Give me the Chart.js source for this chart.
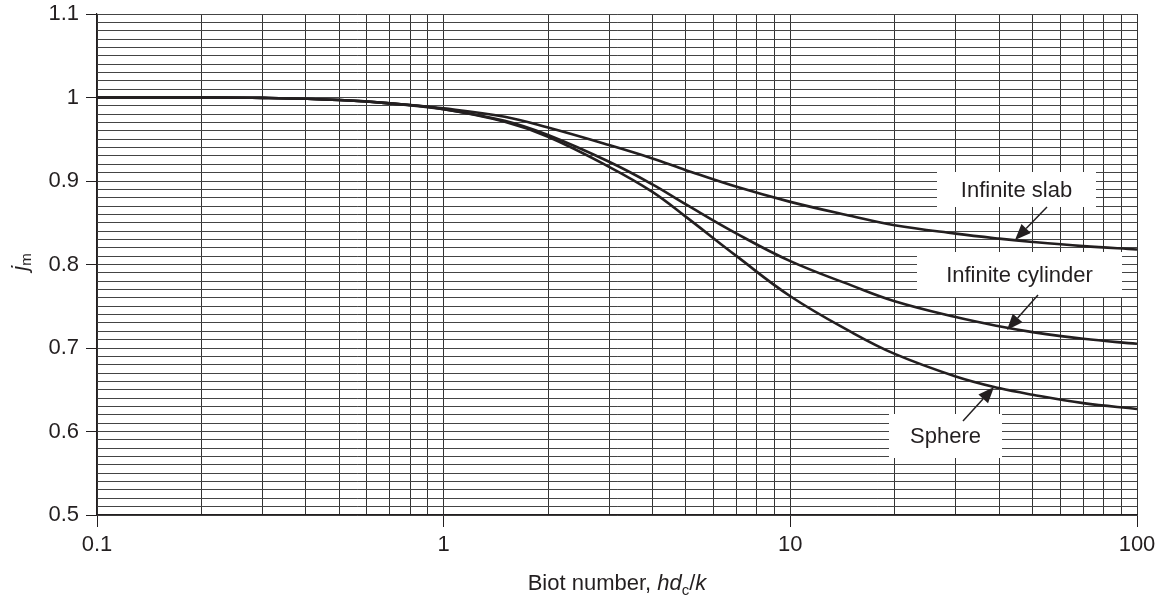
<!DOCTYPE html>
<html lang="en">
<head>
<meta charset="UTF-8">
<title>Biot number chart</title>
<script src="https://cdn.jsdelivr.net/npm/chart.js@4.4.1/dist/chart.umd.min.js"></script>
<style>
  body { margin: 0; background: #fff; }
  #wrap { width: 1169px; height: 598px; }
</style>
</head>
<body>
<div id="wrap"><canvas id="jmChart" width="1169" height="598"></canvas></div>
<script>
// values
const biot = [0.1, 0.2, 0.3, 0.5, 0.7, 1, 1.5, 2, 3, 4, 5, 7, 10, 15, 20, 30, 40, 50, 70, 100];
const slab = [1.0, 1.0, 0.9995, 0.997, 0.993, 0.987, 0.977, 0.964, 0.943, 0.927, 0.913, 0.893, 0.875, 0.858, 0.847, 0.837, 0.831, 0.827, 0.822, 0.818];
const cylinder = [1.0, 1.0, 0.9995, 0.997, 0.993, 0.986, 0.972, 0.955, 0.923, 0.896, 0.872, 0.837, 0.804, 0.775, 0.756, 0.737, 0.726, 0.719, 0.711, 0.705];
const sphere = [1.0, 1.0, 0.9995, 0.997, 0.993, 0.986, 0.971, 0.953, 0.917, 0.887, 0.857, 0.810, 0.762, 0.719, 0.693, 0.666, 0.652, 0.644, 0.634, 0.627];
const curveNames = ['Infinite slab', 'Infinite cylinder', 'Sphere'];
const xTickLabels = ['0.1', '1', '10', '100'];
const yTickLabels = ['0.5', '0.6', '0.7', '0.8', '0.9', '1', '1.1'];

const INK = '#231f20';
const FONT = '"Liberation Sans", Arial, sans-serif';

function pairs(ys) {
    return biot.map((b, i) => ({ x: b, y: ys[i] }));
}

function isDecade(v) {
    const l = Math.log10(v);
    return Math.abs(l - Math.round(l)) < 1e-9;
}

function isTenth(v) {
    return Math.abs(v * 10 - Math.round(v * 10)) < 1e-6;
}

// label boxes and arrows
const labelPlugin = {
    id: 'labels',
    afterDatasetsDraw(chart) {
        const ctx = chart.ctx;
        const boxes = [
            { text: curveNames[0], x: 937, y: 172, w: 159, h: 35, from: [1047, 207], to: [1015, 240] },
            { text: curveNames[1], x: 917, y: 252, w: 205, h: 45, from: [1038, 295], to: [1007, 330] },
            { text: curveNames[2], x: 889, y: 414, w: 113, h: 44, from: [963, 421], to: [994, 387] }
        ];
        ctx.save();
        boxes.forEach(b => {
            ctx.fillStyle = '#fff';
            ctx.fillRect(b.x, b.y, b.w, b.h);
            ctx.fillStyle = INK;
            ctx.font = '22px ' + FONT;
            ctx.textAlign = 'center';
            ctx.textBaseline = 'middle';
            ctx.fillText(b.text, b.x + b.w / 2, b.y + b.h / 2 + 1);
            // arrow
            const dx = b.to[0] - b.from[0], dy = b.to[1] - b.from[1];
            const len = Math.hypot(dx, dy);
            const ux = dx / len, uy = dy / len;
            const head = 16, half = 6.5;
            const bx = b.to[0] - ux * head, by = b.to[1] - uy * head;
            ctx.strokeStyle = INK;
            ctx.lineWidth = 1.5;
            ctx.beginPath();
            ctx.moveTo(b.from[0], b.from[1]);
            ctx.lineTo(bx, by);
            ctx.stroke();
            ctx.beginPath();
            ctx.moveTo(b.to[0], b.to[1]);
            ctx.lineTo(bx - uy * half, by + ux * half);
            ctx.lineTo(bx + uy * half, by - ux * half);
            ctx.closePath();
            ctx.fill();
        });
        ctx.restore();
    },
    afterDraw(chart) {
        const ctx = chart.ctx;
        const area = chart.chartArea;
        ctx.save();
        ctx.fillStyle = INK;
        ctx.textBaseline = 'alphabetic';
        ctx.textAlign = 'left';
        // x axis title: Biot number, hd_c/k
        const parts = [
            { t: 'Biot number, ', f: '22px ' + FONT, dy: 0 },
            { t: 'hd', f: 'italic 22px ' + FONT, dy: 0 },
            { t: 'c', f: '15px ' + FONT, dy: 5 },
            { t: '/', f: '22px ' + FONT, dy: 0 },
            { t: 'k', f: 'italic 22px ' + FONT, dy: 0 }
        ];
        let total = 0;
        parts.forEach(p => { ctx.font = p.f; p.w = ctx.measureText(p.t).width; total += p.w; });
        let x = (area.left + area.right) / 2 - total / 2;
        parts.forEach(p => {
            ctx.font = p.f;
            ctx.fillText(p.t, x, 590 + p.dy);
            x += p.w;
        });
        // y axis title: j_m
        ctx.translate(27, 262);
        ctx.rotate(-Math.PI / 2);
        const yparts = [
            { t: 'j', f: 'italic 22px ' + FONT, dy: 0 },
            { t: 'm', f: '15px ' + FONT, dy: 4 }
        ];
        let tw = 0;
        yparts.forEach(p => { ctx.font = p.f; p.w = ctx.measureText(p.t).width; tw += p.w; });
        let yx = -tw / 2;
        yparts.forEach(p => {
            ctx.font = p.f;
            ctx.fillText(p.t, yx, p.dy);
            yx += p.w;
        });
        ctx.restore();
    }
};

const lineStyle = {
    borderColor: INK,
    borderWidth: 2.6,
    pointRadius: 0,
    fill: false,
    tension: 0.4
};

new Chart(document.getElementById('jmChart'), {
    type: 'line',
    data: {
        datasets: [
            Object.assign({ label: curveNames[0], data: pairs(slab) }, lineStyle),
            Object.assign({ label: curveNames[1], data: pairs(cylinder) }, lineStyle),
            Object.assign({ label: curveNames[2], data: pairs(sphere) }, lineStyle)
        ]
    },
    options: {
        responsive: false,
        animation: false,
        layout: { padding: { left: 0, right: 32, top: 14, bottom: 0 } },
        plugins: {
            legend: { display: false },
            tooltip: { enabled: false }
        },
        scales: {
            x: {
                type: 'logarithmic',
                min: 0.1,
                max: 100,
                afterFit(scale) {
                    scale.height = 83;
                    scale.paddingLeft = 0;
                    scale.paddingRight = 0;
                },
                afterBuildTicks(scale) {
                    const t = [];
                    [0.1, 1, 10].forEach(d => {
                        for (let m = 1; m <= 9; m++) t.push({ value: d * m });
                    });
                    t.push({ value: 100 });
                    scale.ticks = t;
                },
                grid: {
                    color: '#333',
                    lineWidth: 1,
                    tickLength: 12,
                    tickColor: c => (c.tick && isDecade(c.tick.value)) ? INK : 'rgba(0,0,0,0)'
                },
                border: { color: INK, width: 1.2 },
                ticks: {
                    autoSkip: false,
                    maxRotation: 0,
                    padding: 5,
                    color: INK,
                    font: { family: FONT, size: 22 },
                    callback: v => isDecade(v) ? xTickLabels[Math.round(Math.log10(v)) + 1] : ''
                }
            },
            y: {
                min: 0.5,
                max: 1.1,
                afterFit(scale) {
                    scale.width = 97;
                    scale.paddingTop = 0;
                    scale.paddingBottom = 0;
                },
                afterBuildTicks(scale) {
                    const t = [];
                    for (let i = 0; i <= 60; i++) t.push({ value: Math.round((0.5 + i * 0.01) * 100) / 100 });
                    scale.ticks = t;
                },
                grid: {
                    color: '#444',
                    lineWidth: 1,
                    tickLength: 11,
                    tickColor: c => (c.tick && isTenth(c.tick.value)) ? INK : 'rgba(0,0,0,0)'
                },
                border: { color: INK, width: 1.2 },
                ticks: {
                    autoSkip: false,
                    padding: 7,
                    color: INK,
                    font: { family: FONT, size: 22 },
                    callback: v => isTenth(v) ? yTickLabels[Math.round(v * 10) - 5] : ''
                }
            }
        }
    },
    plugins: [labelPlugin]
});
</script>
</body>
</html>
